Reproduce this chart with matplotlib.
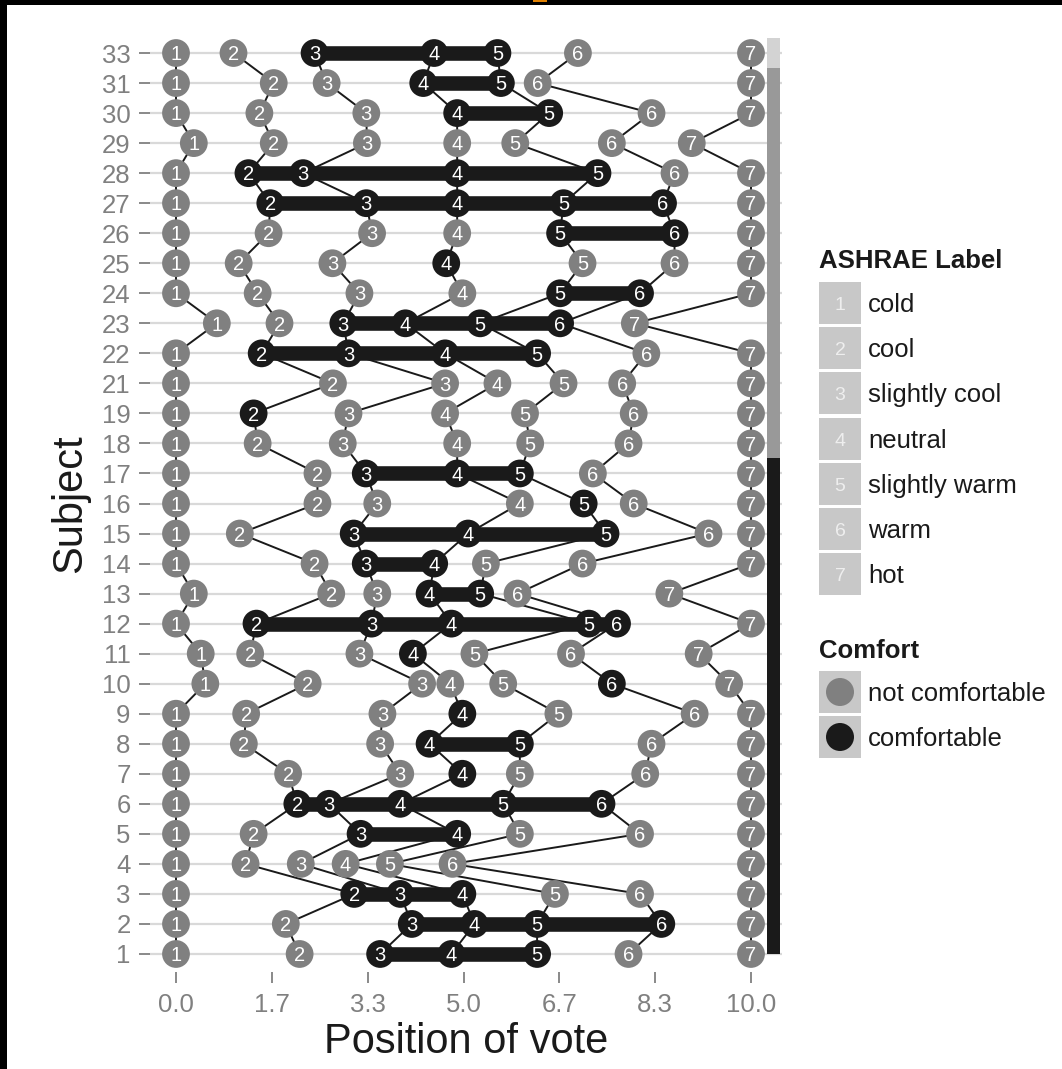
import matplotlib
matplotlib.use("Agg")
import matplotlib.pyplot as plt
from matplotlib.patches import Rectangle, Circle

plt.rcParams['font.family'] = ['Liberation Sans', 'DejaVu Sans']

# ---------------- data ----------------
subjects = [33, 31, 30, 29, 28, 27, 26, 25, 24, 23, 22, 21, 19, 18, 17, 16,
            15, 14, 13, 12, 11, 10, 9, 8, 7, 6, 5, 4, 3, 2, 1]

# position of each ASHRAE label vote (labels 1..7) for each subject
positions = {
    33: [0.00, 1.00, 2.41, 4.49, 5.59, 6.99, 10.0],
    31: [0.00, 1.70, 2.62, 4.30, 5.65, 6.29, 10.0],
    30: [0.00, 1.45, 3.31, 4.89, 6.49, 8.27, 10.0],
    29: [0.31, 1.70, 3.32, 4.89, 5.90, 7.58, 8.97],
    28: [0.00, 1.26, 2.21, 4.89, 7.33, 8.67, 10.0],
    27: [0.00, 1.64, 3.31, 4.89, 6.74, 8.47, 10.0],
    26: [0.00, 1.61, 3.41, 4.89, 6.68, 8.67, 10.0],
    25: [0.00, 1.09, 2.72, 4.70, 7.07, 8.67, 10.0],
    24: [0.00, 1.42, 3.19, 4.98, 6.68, 8.07, 10.0],
    23: [0.71, 1.80, 2.91, 3.99, 5.29, 6.68, 7.98],
    22: [0.00, 1.49, 3.00, 4.68, 6.28, 8.18, 10.0],
    21: [0.00, 2.73, 4.68, 5.59, 6.74, 7.76, 10.0],
    19: [0.00, 1.35, 3.00, 4.68, 6.07, 7.96, 10.0],
    18: [0.00, 1.42, 2.90, 4.89, 6.16, 7.87, 10.0],
    17: [0.00, 2.46, 3.30, 4.89, 5.98, 7.25, 10.0],
    16: [0.00, 2.46, 3.50, 5.98, 7.09, 7.96, 10.0],
    15: [0.00, 1.11, 3.09, 5.08, 7.47, 9.26, 10.0],
    14: [0.00, 2.41, 3.30, 4.49, 5.39, 7.07, 10.0],
    13: [0.31, 2.70, 3.50, 4.41, 5.29, 5.94, 8.58],
    12: [0.00, 1.40, 3.40, 4.79, 7.18, 7.67, 10.0],
    11: [0.43, 1.29, 3.19, 4.12, 5.19, 6.87, 9.09],
    10: [0.51, 2.29, 4.28, 4.77, 5.69, 7.58, 9.62],
    9:  [0.00, 1.22, 3.59, 4.98, 6.65, 9.02, 10.0],
    8:  [0.00, 1.18, 3.55, 4.41, 5.98, 8.27, 10.0],
    7:  [0.00, 1.95, 3.90, 4.98, 5.98, 8.16, 10.0],
    6:  [0.00, 2.11, 2.66, 3.90, 5.69, 7.40, 10.0],
    5:  [0.00, 1.35, 3.21, 4.89, 5.98, 8.07, 10.0],
    4:  [0.00, 1.21, 2.17, 2.95, 3.72, 4.81, 10.0],
    3:  [0.00, 3.10, 3.90, 4.98, 6.59, 8.07, 10.0],
    2:  [0.00, 1.91, 4.10, 5.19, 6.28, 8.44, 10.0],
    1:  [0.00, 2.15, 3.55, 4.79, 6.28, 7.87, 10.0],
}

# labels voted as comfortable for each subject
comfortable = {
    33: [3, 4, 5], 31: [4, 5], 30: [4, 5], 29: [], 28: [2, 3, 4, 5],
    27: [2, 3, 4, 5, 6], 26: [5, 6], 25: [4], 24: [5, 6], 23: [3, 4, 5, 6],
    22: [2, 3, 4, 5], 21: [], 19: [2], 18: [], 17: [3, 4, 5], 16: [5],
    15: [3, 4, 5], 14: [3, 4], 13: [4, 5], 12: [2, 3, 4, 5, 6], 11: [4],
    10: [6], 9: [4], 8: [4, 5], 7: [4], 6: [2, 3, 4, 5, 6], 5: [3, 4],
    4: [], 3: [2, 3, 4], 2: [3, 4, 5, 6], 1: [3, 4, 5],
}

# subject grouping shown by the bar on the right
group_of = {s: ('A' if s == 33 else ('B' if s >= 18 else 'C')) for s in subjects}
group_colors = {'A': '#d3d3d3', 'B': '#999999', 'C': '#1a1a1a'}

ashrae_labels = [1, 2, 3, 4, 5, 6, 7]
ashrae_names = ['cold', 'cool', 'slightly cool', 'neutral', 'slightly warm', 'warm', 'hot']
comfort_names = ['not comfortable', 'comfortable']

x_ticks = [0.0, 10/6, 20/6, 5.0, 40/6, 50/6, 10.0]
x_ticklabels = ['0.0', '1.7', '3.3', '5.0', '6.7', '8.3', '10.0']

# ---------------- styling ----------------
GREY = '#808080'
BLACK = '#1a1a1a'
W, H = 1062, 1069

fig = plt.figure(figsize=(W / 100, H / 100), dpi=100)
fig.patch.set_facecolor('white')

pl, pr, pt, pb = 150, 782, 35, 972
ax = fig.add_axes([pl / W, (H - pb) / H, (pr - pl) / W, (pb - pt) / H])
ax.set_facecolor('white')

order = subjects[::-1]            # bottom to top
ypos = {s: i for i, s in enumerate(order)}

# thin lines connecting each label across subjects
for k in ashrae_labels:
    xs = [positions[s][k - 1] for s in order]
    ys = [ypos[s] for s in order]
    ax.plot(xs, ys, color=BLACK, lw=1.4, zorder=2, solid_capstyle='round')

# thick bars joining comfortable votes
for s in order:
    c = sorted(comfortable[s])
    for a, b in zip(c[:-1], c[1:]):
        ax.plot([positions[s][a - 1], positions[s][b - 1]], [ypos[s], ypos[s]],
                color=BLACK, lw=10.5, solid_capstyle='butt', zorder=3)

# points
xs, ys, cols, labs = [], [], [], []
for s in order:
    for k in ashrae_labels:
        xs.append(positions[s][k - 1])
        ys.append(ypos[s])
        cols.append(BLACK if k in comfortable[s] else GREY)
        labs.append(str(k))
ax.scatter(xs, ys, s=400, c=cols, edgecolors='none', zorder=4)
for x, y, t in zip(xs, ys, labs):
    ax.annotate(t, (x, y), xytext=(0, -5.2), textcoords='offset points',
                ha='center', va='baseline', color='white', fontsize=14.5, zorder=5)

# group bar
for g in ['A', 'B', 'C']:
    idx = [ypos[s] for s in order if group_of[s] == g]
    lo = max(min(idx) - 0.5, 0)
    hi = max(idx) + 0.5
    ax.fill_betweenx([lo, hi], 10.28, 10.50, color=group_colors[g], lw=0, zorder=3)

ax.set_xlim(-(176 - pl) / 57.5, -(176 - pl) / 57.5 + (pr - pl) / 57.5)
ax.set_ylim(-0.6, len(order) - 1 + 0.6)
ax.set_yticks(range(len(order)))
ax.set_yticklabels([str(s) for s in order])
ax.set_xticks(x_ticks)
ax.set_xticklabels(x_ticklabels)
ax.yaxis.grid(True, color='#d9d9d9', lw=1.6, zorder=0)
ax.xaxis.grid(False)
ax.set_axisbelow(True)
for sp in ax.spines.values():
    sp.set_visible(False)
ax.tick_params(axis='both', colors=GREY, labelcolor=GREY, labelsize=18.5,
               length=8, width=1.3)
ax.tick_params(axis='y', pad=6)
ax.tick_params(axis='x', pad=7)

ax.set_xlabel('Position of vote', fontsize=30, color=BLACK, va='center')
ax.xaxis.set_label_coords(0.5, (pb - 1042) / (pb - pt))
ax.set_ylabel('Subject', fontsize=30, color=BLACK, va='center', ha='center')
ax.yaxis.set_label_coords((70 - pl) / (pr - pl), 0.5)

# ---------------- legend & frame (pixel coordinates) ----------------
ov = fig.add_axes([0, 0, 1, 1], zorder=10)
ov.set_xlim(0, W)
ov.set_ylim(H, 0)
ov.axis('off')
ov.patch.set_alpha(0)

ov.text(819, 268, 'ASHRAE Label', fontsize=18.5, fontweight='bold', color=BLACK,
        ha='left', va='baseline')
for i, (k, name) in enumerate(zip(ashrae_labels, ashrae_names)):
    cy = 303 + 45.2 * i
    ov.add_patch(Rectangle((819, cy - 21), 42, 42, facecolor='#c8c8c8', edgecolor='none'))
    ov.text(840, cy + 7, str(k), fontsize=14, color='#eeeeee', ha='center', va='baseline')
    ov.text(868, cy + 9, name, fontsize=18.5, color=BLACK, ha='left', va='baseline')

ov.text(819, 658, 'Comfort', fontsize=18.5, fontweight='bold', color=BLACK,
        ha='left', va='baseline')
for i, (name, col) in enumerate(zip(comfort_names, [GREY, BLACK])):
    cy = 692 + 45 * i
    ov.add_patch(Rectangle((819, cy - 21), 42, 42, facecolor='#c8c8c8', edgecolor='none'))
    ov.add_patch(Circle((840, cy), 14, facecolor=col, edgecolor='none'))
    ov.text(868, cy + 9, name, fontsize=18.5, color=BLACK, ha='left', va='baseline')

# dark frame remnants at the image edges
ov.add_patch(Rectangle((0, 0), W, 5, facecolor='black', edgecolor='none'))
ov.add_patch(Rectangle((0, 0), 7, H, facecolor='black', edgecolor='none'))
ov.add_patch(Rectangle((533, 0), 14, 1.8, facecolor='#e08000', edgecolor='none'))

fig.savefig('out.png', dpi=100, facecolor='white')
